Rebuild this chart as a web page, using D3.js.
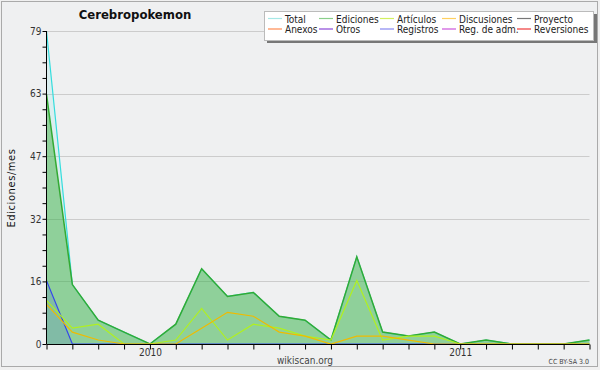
<!DOCTYPE html>
<meta charset="utf-8">
<script src="https://d3js.org/d3.v7.min.js"></script>
<style>
  body { margin: 0; background: #f0f0f0; }
  text { font-family: "DejaVu Sans Condensed", "DejaVu Sans", sans-serif; }
</style>
<body>
<div id="chart"></div>
</body>
<script>
// monthly values, 2009-09 .. 2011-06
var months = ["2009-09","2009-10","2009-11","2009-12","2010-01","2010-02","2010-03","2010-04",
  "2010-05","2010-06","2010-07","2010-08","2010-09","2010-10","2010-11","2010-12",
  "2011-01","2011-02","2011-03","2011-04","2011-05","2011-06"];
var total       = [79,15,6,3,0,5,19,12,13,7,6,1,22,3,2,3,0,1,0,0,0,1];
var ediciones   = [63,15,6,3,0,5,19,12,13,7,6,1,22,3,2,3,0,1,0,0,0,1];
var registros   = [16,0,0,0,0,0,0,0,0,0,0,0,0,0,0,0,0,0,0,0,0,0];
var articulos   = [11,4,5,0,0,1,9,1,5,4,2,1,16,1,2,2,0,0,0,0,0,0];
var discusiones = [10,3,1,0,0,0,4,8,7,3,2,0,2,2,1,0,0,0,0,0,0,0];

var yMax = 79;
var yearLabels = {"2010-01": "2010", "2011-01": "2011"};

var legendNames = ["Total","Ediciones","Artículos","Discusiones","Proyecto",
  "Anexos","Otros","Registros","Reg. de adm.","Reversiones"];
var legendColors = ["#a6e8e6","#8acf8a","#d2f060","#ffd060","#777777",
  "#ff8a50","#8a48d8","#8888f0","#cc55dd","#ee3a3a"];

var W = 600, H = 370;
var svg = d3.select("#chart").append("svg")
  .attr("width", W).attr("height", H);

// frame
svg.append("rect")
  .attr("x", 1.5).attr("y", 1.5).attr("width", 596).attr("height", 365)
  .style("fill", "#eff0f1").style("stroke", "#aaaaaa");

var x = d3.scaleLinear().domain([0, months.length - 1]).range([46.5, 589.5]);
var y = d3.scaleLinear().domain([0, yMax]).range([344, 31]);

// grid
var major = d3.range(1, 6).map(function(i) { return i * yMax / 5; });
svg.append("g").selectAll("line").data(major).enter().append("line")
  .attr("x1", 47).attr("x2", 589.5)
  .attr("y1", function(d) { return Math.round(y(d)) + 0.5; })
  .attr("y2", function(d) { return Math.round(y(d)) + 0.5; })
  .style("stroke", "#cccccc");

function area(vals) {
  return d3.area()
    .x(function(d, i) { return x(i); })
    .y0(y(0))
    .y1(function(d) { return y(d); })(vals);
}
function line(vals) {
  return d3.line()
    .x(function(d, i) { return x(i); })
    .y(function(d) { return y(d); })(vals);
}

// areas
svg.append("path").attr("d", area(total))
  .style("fill", "#33dddd").style("fill-opacity", 0.1).style("stroke", "none");
svg.append("path").attr("d", area(ediciones))
  .style("fill", "#33aa33").style("fill-opacity", 0.45).style("stroke", "none");
svg.append("path").attr("d", area(registros))
  .style("fill", "#3344ee").style("fill-opacity", 0.15).style("stroke", "none");

// lines
svg.append("path").attr("d", line(total))
  .style("fill", "none").style("stroke", "#33dddd").style("stroke-width", 1.2);
svg.append("path").attr("d", line(ediciones))
  .style("fill", "none").style("stroke", "#33aa33").style("stroke-width", 1.5);
svg.append("path").attr("d", line(registros))
  .style("fill", "none").style("stroke", "#3344ee").style("stroke-width", 1.2);
svg.append("path").attr("d", line(articulos))
  .style("fill", "none").style("stroke", "#b0f020").style("stroke-width", 1.2);
svg.append("path").attr("d", line(discusiones))
  .style("fill", "none").style("stroke", "#f0bb00").style("stroke-width", 1.2);

// y axis
var yTicks = d3.range(0, 21).map(function(i) { return i * yMax / 20; });
var yAxis = d3.axisLeft(y)
  .tickValues(yTicks)
  .tickSize(4)
  .tickFormat(function(d, i) { return i % 4 === 0 ? Math.round(d) : ""; });
var gy = svg.append("g").attr("transform", "translate(46.5,0)").call(yAxis);
gy.select(".domain").attr("d", "M0," + y(yMax) + "V" + y(0)).style("stroke", "#000");
gy.selectAll(".tick line").style("stroke", "#000");
gy.selectAll(".tick text").attr("x", -5)
  .style("font-size", "10px").style("fill", "#333")
  .style("font-family", "'DejaVu Sans Condensed', 'DejaVu Sans', sans-serif");

// x axis
var xAxis = d3.axisBottom(x)
  .tickValues(d3.range(months.length))
  .tickSize(5)
  .tickFormat(function(d) { return yearLabels[months[d]] || ""; });
var gx = svg.append("g").attr("transform", "translate(0,344.5)").call(xAxis);
gx.select(".domain").attr("d", "M" + x(0) + ",0H" + x(months.length - 1)).style("stroke", "#000");
gx.selectAll(".tick line").style("stroke", "#000");
gx.selectAll(".tick text").attr("y", 4)
  .style("font-size", "10px").style("fill", "#333")
  .style("font-family", "'DejaVu Sans Condensed', 'DejaVu Sans', sans-serif");

// title
svg.append("text").attr("x", 135).attr("y", 19)
  .attr("text-anchor", "middle")
  .style("font-size", "13px").style("font-weight", "bold").style("fill", "#111")
  .text("Cerebropokemon");

// y label
svg.append("text")
  .attr("transform", "translate(15,188) rotate(-90)")
  .attr("text-anchor", "middle")
  .style("font-size", "11px").style("fill", "#111").style("letter-spacing", "0.6px")
  .text("Ediciones/mes");

// footer
svg.append("text").attr("x", 305).attr("y", 364)
  .attr("text-anchor", "middle")
  .style("font-size", "10px").style("fill", "#444")
  .text("wikiscan.org");
svg.append("text").attr("x", 589).attr("y", 364)
  .attr("text-anchor", "end")
  .style("font-size", "7px").style("fill", "#444")
  .text("CC BY-SA 3.0");

// legend
var lg = svg.append("g");
lg.append("rect").attr("x", 267).attr("y", 14).attr("width", 330).attr("height", 29)
  .style("fill", "#777");
lg.append("rect").attr("x", 264.5).attr("y", 11.5).attr("width", 329).attr("height", 29)
  .style("fill", "#ffffff").style("stroke", "#bbbbbb");
var colX = [268, 319, 380, 442, 517];
var rowY = [19, 29.5];
legendNames.forEach(function(name, i) {
  var cx = colX[i % 5], cy = rowY[Math.floor(i / 5)];
  lg.append("line").attr("x1", cx).attr("x2", cx + 14)
    .attr("y1", cy - 0.5).attr("y2", cy - 0.5)
    .style("stroke", legendColors[i]).style("stroke-width", 1.2);
  lg.append("text").attr("x", cx + 17).attr("y", cy + 3.5)
    .style("font-size", "10px").style("fill", "#222")
    .text(name);
});
</script>
